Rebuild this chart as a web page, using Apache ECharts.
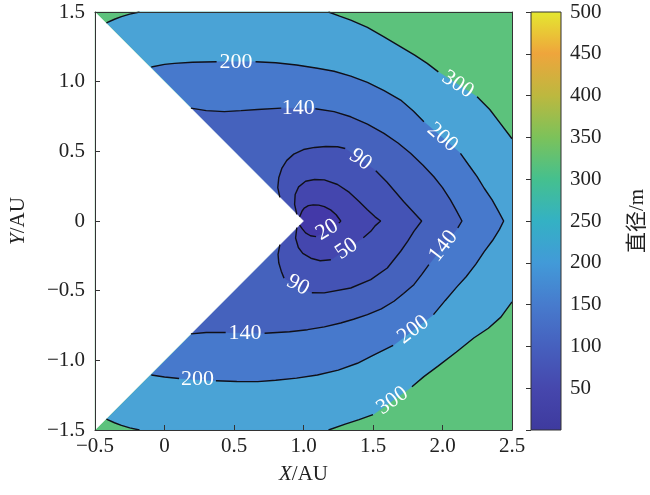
<!DOCTYPE html>
<html>
<head>
<meta charset="utf-8">
<script src="https://cdn.jsdelivr.net/npm/echarts@6/dist/echarts.min.js"></script>
<style>
html,body{margin:0;padding:0;background:#fff}
#main{width:650px;height:495px}
</style>
</head>
<body>
<div id="main"></div>
<script>
// 等值线图：直径随位置的分布
var xMin = -0.5, xMax = 2.5, yMin = -1.5, yMax = 1.5;
var xTickLabels = ['−0.5', '0', '0.5', '1.0', '1.5', '2.0', '2.5'];
var yTickLabels = ['−1.5', '−1.0', '−0.5', '0', '0.5', '1.0', '1.5'];
var levels = [20, 50, 90, 140, 200, 300];

// 无数据的楔形区域
var gapWedge = [[-0.5, 1.5], [1.0, 0], [-0.5, -1.5]];

// 各等值线（上边楔形边 -> 绕过 y=0 -> 下边楔形边），null 为标注处断开
var c20 = [
  [0.972, 0.03], [0.99, 0.072], [1.005, 0.092], [1.035, 0.11], [1.07, 0.116], [1.11, 0.114],
  [1.15, 0.103], [1.195, 0.08], [1.235, 0.045], [1.268, 0],
  [1.255, -0.015], null,
  [1.09, -0.112], [1.05, -0.106], [1.015, -0.085], [0.993, -0.058], [0.972, -0.03]
];
var c50 = [
  [0.952, 0.048], [0.936, 0.12], [0.94, 0.19], [0.965, 0.245], [1.015, 0.285], [1.08, 0.298],
  [1.15, 0.295], [1.245, 0.262], [1.33, 0.205], [1.40, 0.14], [1.46, 0.08], [1.515, 0.03], [1.555, 0],
  [1.515, -0.035], [1.484, -0.074], [1.43, -0.12], null,
  [1.197, -0.278], [1.12, -0.285], [1.053, -0.267], [0.995, -0.232], [0.963, -0.19], [0.943, -0.122], [0.952, -0.048]
];
var c90 = [
  [0.83, 0.17], [0.815, 0.24], [0.822, 0.31], [0.845, 0.38], [0.88, 0.435], [0.93, 0.48], [1.0, 0.513],
  [1.08, 0.528], [1.16, 0.535], [1.245, 0.533], [1.30, 0.52], null,
  [1.52, 0.36], [1.60, 0.28], [1.66, 0.21], [1.72, 0.14], [1.785, 0.07], [1.85, 0],
  [1.794, -0.074], [1.75, -0.145], [1.699, -0.217], [1.603, -0.337], [1.484, -0.421], [1.34, -0.481],
  [1.149, -0.516], [1.06, -0.515], null,
  [0.86, -0.41], [0.84, -0.36], [0.822, -0.30], [0.817, -0.24], [0.83, -0.17]
];
var c140 = [
  [0.19, 0.81], [0.3, 0.792], [0.43, 0.785], [0.55, 0.792], [0.67, 0.8], [0.84, 0.81], null,
  [1.085, 0.806], [1.22, 0.785], [1.34, 0.748], [1.46, 0.695], [1.579, 0.629], [1.68, 0.56], [1.77, 0.486],
  [1.86, 0.40], [1.938, 0.318], [2.0, 0.24], [2.057, 0.151], [2.10, 0.075], [2.14, 0],
  [2.11, -0.05], null,
  [1.902, -0.313], [1.85, -0.385], [1.794, -0.457], [1.72, -0.52], [1.651, -0.576], [1.56, -0.63],
  [1.46, -0.672], [1.36, -0.705], [1.268, -0.732], [1.15, -0.76], [1.029, -0.78], [0.90, -0.795], [0.72, -0.806], null,
  [0.44, -0.80], [0.30, -0.80], [0.19, -0.81]
];
var c200 = [
  [-0.095, 1.105], [0.0, 1.124], [0.072, 1.131], [0.2, 1.139], [0.375, 1.143], null,
  [0.655, 1.143], [0.8, 1.136], [0.95, 1.12], [1.1, 1.096], [1.22, 1.075], [1.34, 1.04], [1.46, 0.995],
  [1.58, 0.935], [1.699, 0.868], [1.79, 0.79], [1.866, 0.712], null,
  [2.129, 0.486], [2.19, 0.40], [2.249, 0.318], [2.30, 0.235], [2.357, 0.151], [2.40, 0.075], [2.44, 0],
  [2.41, -0.06], [2.36, -0.14], [2.30, -0.22], [2.24, -0.31], [2.17, -0.40], [2.105, -0.471], [2.02, -0.57],
  [1.935, -0.672], null,
  [1.645, -0.893], [1.50, -0.965], [1.388, -1.021], [1.25, -1.07], [1.10, -1.105], [0.95, -1.128],
  [0.80, -1.143], [0.671, -1.153], [0.52, -1.152], [0.37, -1.146], null,
  [0.105, -1.13], [0.0, -1.12], [-0.095, -1.105]
];
var c300 = [
  [-0.418, 1.422], [-0.36, 1.448], [-0.31, 1.467], [-0.25, 1.485], [-0.18, 1.5], null,
  [1.18, 1.5], [1.26, 1.47], [1.34, 1.442], [1.46, 1.39], [1.579, 1.322], [1.70, 1.25], [1.80, 1.19],
  [1.89, 1.131], [1.97, 1.07], null,
  [2.249, 0.892], [2.34, 0.80], [2.416, 0.701], [2.5, 0.59], null,
  [2.5, -0.58], [2.42, -0.69], [2.33, -0.77], [2.225, -0.84], [2.1, -0.94], [1.97, -1.04], [1.866, -1.117],
  [1.78, -1.19], null,
  [1.50, -1.39], [1.40, -1.425], [1.30, -1.458], [1.18, -1.5], null,
  [-0.18, -1.5], [-0.25, -1.485], [-0.31, -1.467], [-0.36, -1.448], [-0.418, -1.422]
];
var contours = [c20, c50, c90, c140, c200, c300];

// 等值线标注 [x, y, 文本, 角度]
var contourLabels = [
  [2.11, 0.98, '300', -33],
  [2.0, 0.6, '200', -41],
  [0.515, 1.143, '200', 0],
  [0.962, 0.806, '140', 0],
  [1.41, 0.44, '90', -36],
  [1.17, -0.064, '20', 31],
  [1.31, -0.2, '50', 34],
  [0.96, -0.46, '90', -28],
  [0.58, -0.803, '140', 0],
  [2.006, -0.18, '140', 52],
  [0.238, -1.138, '200', 0],
  [1.79, -0.78, '200', 37],
  [1.64, -1.29, '300', 35]
];

// 填充色：各等值线内部（低于该值）的颜色，和 >300 的底色
var fillColors = ['#4339a8', '#4446ae', '#4453b5', '#4562bd', '#4779cc', '#4aa3d6'];
var topColor = '#5cc27c';
var barStops = ['#3e3a9e', '#4647ad', '#4660be', '#477bcd', '#429ad8', '#34b1c4',
                '#45c08e', '#7cc25a', '#bdb83f', '#efa53c', '#e4e830'];

var serif = "'Liberation Serif','Times New Roman',serif";
var txt = '#222';
var fs = 21;

var mychart = echarts.init(document.getElementById('main'));

function tickFmt(arr, min) {
  return function (v) {
    var i = Math.round((v - min) / 0.5);
    return arr[i] !== undefined ? arr[i] : '';
  };
}

// 填充顺序：底色 -> 300 -> ... -> 20 -> 楔形空白
var fillItems = [];
fillItems.push({ value: [0], poly: [[xMin, yMin], [xMax, yMin], [xMax, yMax], [xMin, yMax]], color: topColor });
for (var k = contours.length - 1; k >= 0; k--) {
  var pts = contours[k].filter(function (p) { return p !== null; });
  pts.push([1.0, 0]);
  fillItems.push({ value: [0], poly: pts, color: fillColors[k] });
}
fillItems.push({ value: [0], poly: gapWedge, color: '#ffffff' });

var lineSeries = contours.map(function (c, i) {
  return {
    name: String(levels[i]),
    type: 'line',
    xAxisIndex: 0, yAxisIndex: 0,
    data: c.map(function (p) { return p === null ? ['-', '-'] : p; }),
    symbol: 'none',
    connectNulls: false,
    lineStyle: { color: '#101018', width: 1.4 },
    z: 5,
    silent: true
  };
});

var frameLine = { onZero: false, lineStyle: { color: '#333', width: 1 } };

var option = {
  animation: false,
  backgroundColor: '#fff',
  grid: [
    { left: 94, top: 12, width: 418, height: 418 },
    { left: 531, top: 12, width: 30, height: 418 }
  ],
  xAxis: [
    {
      gridIndex: 0, type: 'value', min: xMin, max: xMax, interval: 0.5, z: 10,
      name: '{i|X}/AU', nameLocation: 'middle', nameGap: 34,
      nameTextStyle: { fontFamily: serif, fontSize: fs, color: txt, rich: { i: { fontFamily: serif, fontSize: fs, fontStyle: 'italic', color: txt } } },
      axisLine: frameLine,
      axisTick: { inside: true, length: 5, lineStyle: { color: '#333' } },
      axisLabel: { fontFamily: serif, fontSize: fs, color: txt, margin: 6, formatter: tickFmt(xTickLabels, xMin) },
      splitLine: { show: false }
    },
    {
      gridIndex: 0, type: 'value', position: 'top', min: xMin, max: xMax, z: 10,
      axisLine: frameLine,
      axisTick: { show: false }, axisLabel: { show: false }, splitLine: { show: false }
    },
    {
      gridIndex: 1, type: 'value', min: 0, max: 1, show: false
    }
  ],
  yAxis: [
    {
      gridIndex: 0, type: 'value', min: yMin, max: yMax, interval: 0.5, z: 10,
      name: '{i|Y}/AU', nameLocation: 'middle', nameGap: 66, nameRotate: 90,
      nameTextStyle: { fontFamily: serif, fontSize: fs, color: txt, rich: { i: { fontFamily: serif, fontSize: fs, fontStyle: 'italic', color: txt } } },
      axisLine: frameLine,
      axisTick: { inside: true, length: 5, lineStyle: { color: '#333' } },
      axisLabel: { fontFamily: serif, fontSize: fs, color: txt, margin: 10, formatter: tickFmt(yTickLabels, yMin) },
      splitLine: { show: false }
    },
    {
      gridIndex: 0, type: 'value', position: 'right', min: yMin, max: yMax, z: 10,
      axisLine: frameLine,
      axisTick: { show: false }, axisLabel: { show: false }, splitLine: { show: false }
    },
    {
      gridIndex: 1, type: 'value', position: 'right', min: 0, max: 500, interval: 50, z: 10,
      name: '直径/m', nameLocation: 'middle', nameGap: 66, nameRotate: 90,
      nameTextStyle: { fontFamily: "'Liberation Serif','Noto Sans CJK SC',serif", fontSize: fs, color: txt },
      axisLine: { show: false },
      axisTick: { inside: true, length: 5, lineStyle: { color: '#333' } },
      axisLabel: { fontFamily: serif, fontSize: fs, color: txt, margin: 9, formatter: function (v) { return v === 0 ? '' : String(v); } },
      splitLine: { show: false }
    }
  ],
  series: [
    {
      type: 'custom',
      xAxisIndex: 0, yAxisIndex: 0,
      silent: true,
      z: 2,
      data: fillItems.map(function (f) { return f.value; }),
      renderItem: function (params, api) {
        var f = fillItems[params.dataIndex];
        return {
          type: 'polygon',
          shape: { points: f.poly.map(function (p) { return api.coord(p); }) },
          style: { fill: f.color, stroke: f.color, lineWidth: 0.5 }
        };
      }
    }
  ].concat(lineSeries).concat([
    {
      type: 'custom',
      xAxisIndex: 0, yAxisIndex: 0,
      silent: true,
      z: 6,
      data: contourLabels.map(function (l) { return [l[0], l[1]]; }),
      renderItem: function (params, api) {
        var l = contourLabels[params.dataIndex];
        var p = api.coord([l[0], l[1]]);
        return {
          type: 'text',
          x: p[0], y: p[1],
          rotation: l[3] * Math.PI / 180,
          style: {
            text: l[2], fill: '#ffffff', fontSize: 22, fontFamily: serif,
            align: 'center', verticalAlign: 'middle'
          }
        };
      }
    },
    {
      type: 'custom',
      xAxisIndex: 2, yAxisIndex: 2,
      silent: true,
      data: [[0, 0]],
      renderItem: function (params, api) {
        var p0 = api.coord([0, 0]);
        var p1 = api.coord([1, 500]);
        var stops = barStops.map(function (c, i) { return { offset: i / (barStops.length - 1), color: c }; });
        return {
          type: 'rect',
          shape: { x: p0[0], y: p1[1], width: p1[0] - p0[0], height: p0[1] - p1[1] },
          style: { fill: new echarts.graphic.LinearGradient(0, 1, 0, 0, stops), stroke: '#333', lineWidth: 1 }
        };
      }
    }
  ])
};
mychart.setOption(option);
</script>
</body>
</html>
